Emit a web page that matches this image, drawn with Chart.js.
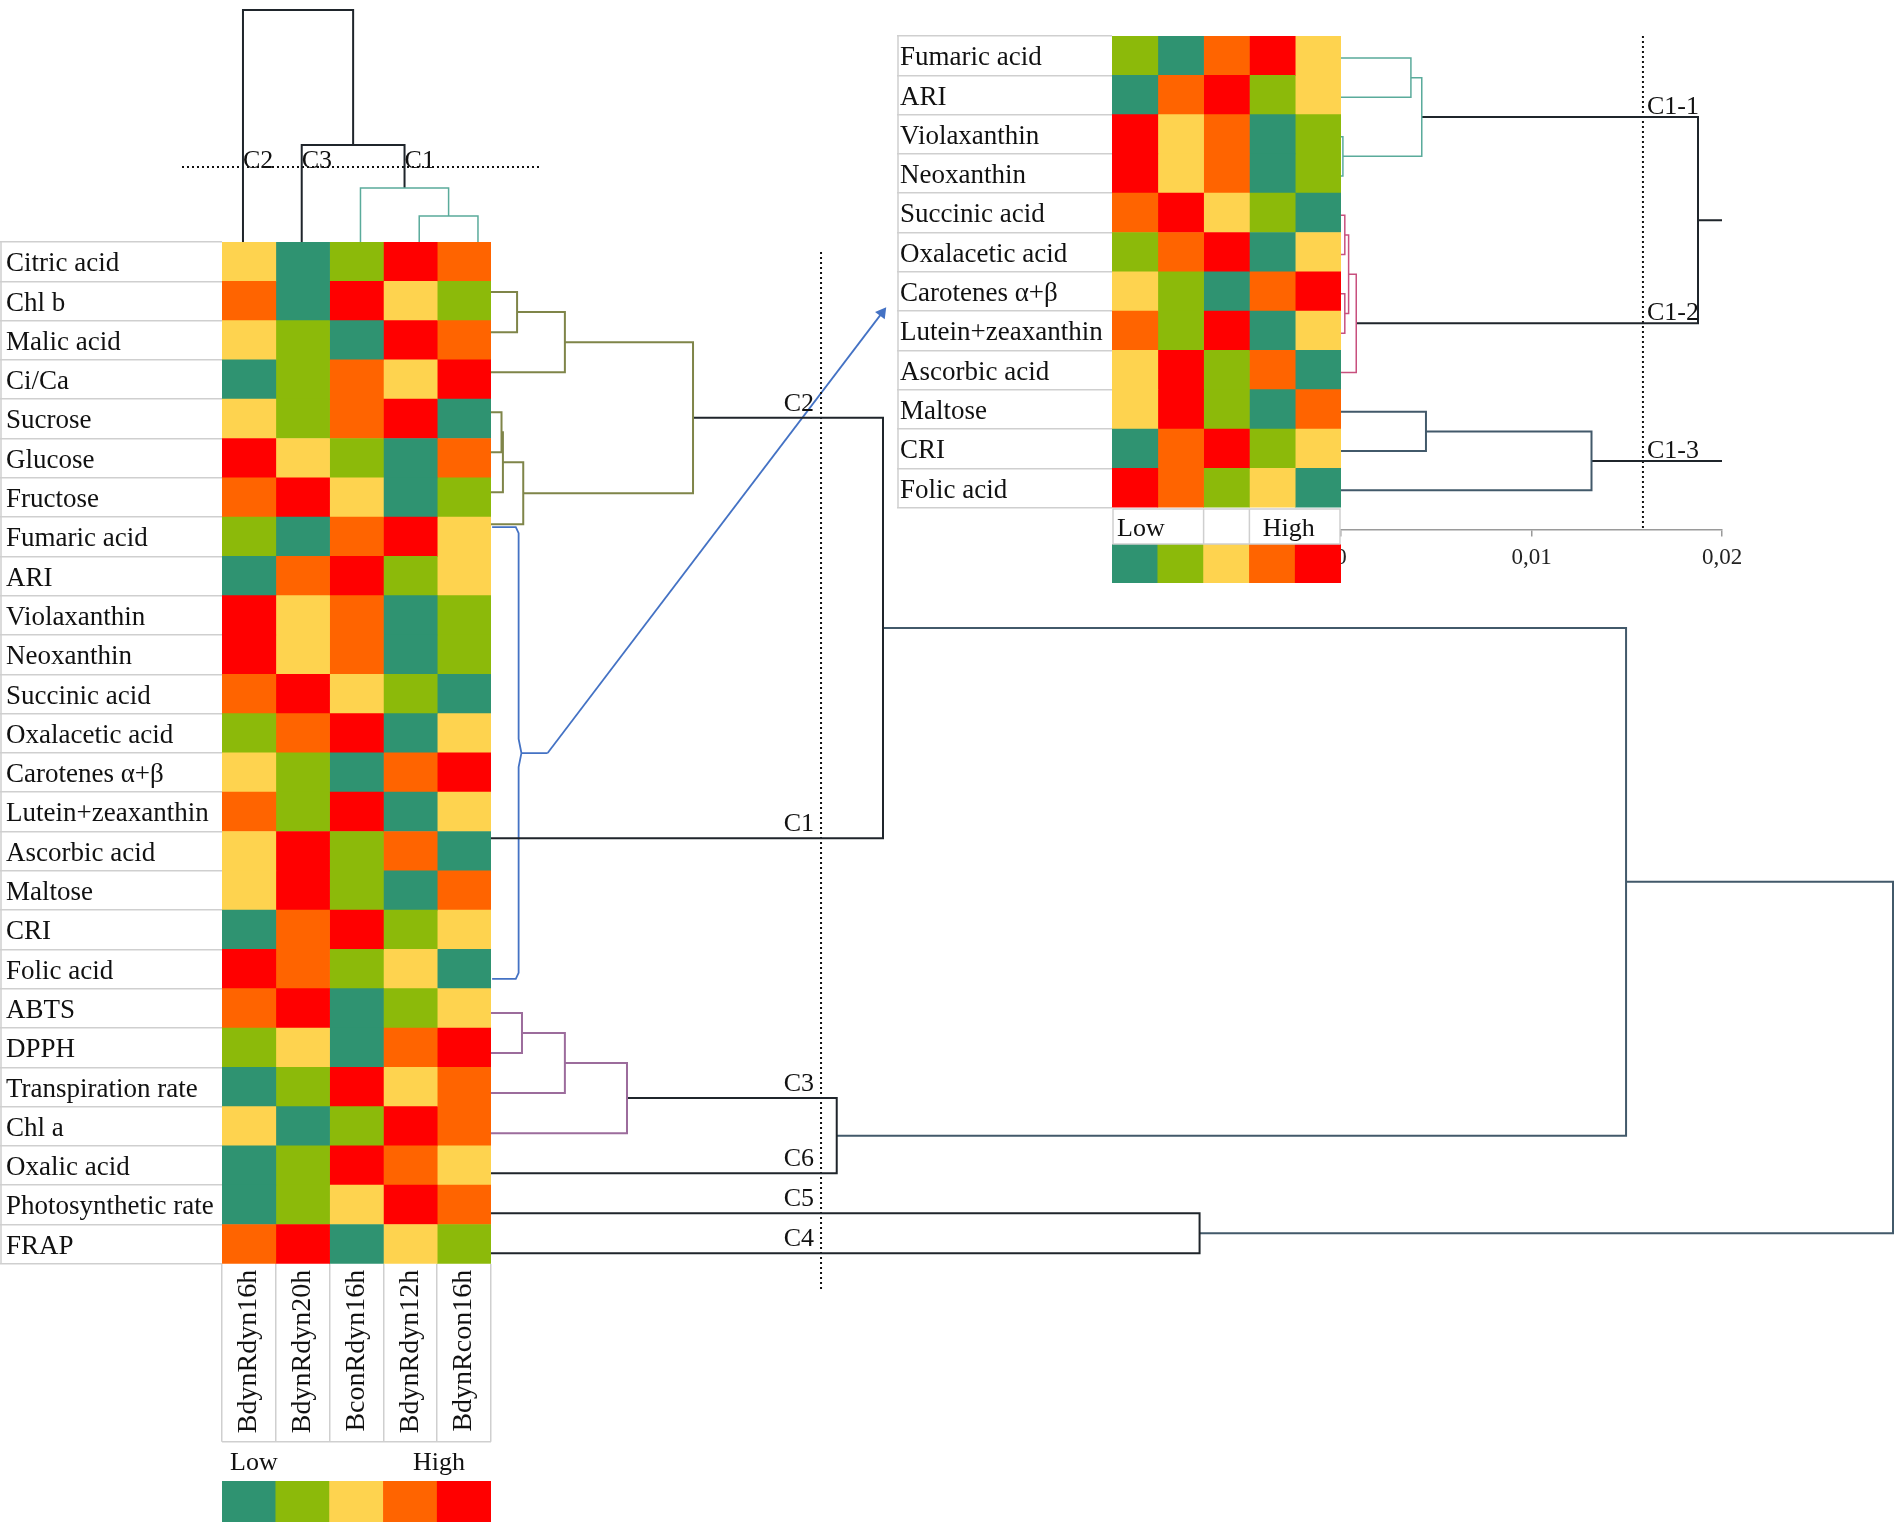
<!DOCTYPE html>
<html lang="en">
<head>
<meta charset="UTF-8">
<title>Clustered heatmap</title>
<script src="https://cdn.jsdelivr.net/npm/chart.js@4.4.1/dist/chart.umd.min.js"></script>
<style>
  html, body { margin: 0; padding: 0; background: #fff; }
  #page { position: relative; width: 1900px; height: 1522px; overflow: hidden; background: #fff; }
  #page canvas { position: absolute; }
</style>
</head>
<body>
<div id="page"></div>
<script>
// ---------- data ----------
const rowNames = ['Citric acid', 'Chl b', 'Malic acid', 'Ci/Ca', 'Sucrose', 'Glucose', 'Fructose',
  'Fumaric acid', 'ARI', 'Violaxanthin', 'Neoxanthin', 'Succinic acid', 'Oxalacetic acid',
  'Carotenes α+β', 'Lutein+zeaxanthin', 'Ascorbic acid', 'Maltose', 'CRI', 'Folic acid',
  'ABTS', 'DPPH', 'Transpiration rate', 'Chl a', 'Oxalic acid', 'Photosynthetic rate', 'FRAP'];
const colNames = ['BdynRdyn16h', 'BdynRdyn20h', 'BconRdyn16h', 'BdynRdyn12h', 'BdynRcon16h'];

// colour class of every row, 1 = low ... 5 = high
const bdynRdyn16h = [3,4,3,1,3,5,4,2,1,5,5,4,2,3,4,3,3,1,5,4,2,1,3,1,1,4];
const bdynRdyn20h = [1,1,2,2,2,3,5,1,4,3,3,5,4,2,2,5,5,4,4,5,3,2,1,2,2,5];
const bconRdyn16h = [2,5,1,4,4,2,3,4,5,4,4,3,5,1,5,2,2,5,2,1,1,5,2,5,3,1];
const bdynRdyn12h = [5,3,5,3,5,1,1,5,2,1,1,2,1,4,1,4,1,2,3,2,4,3,5,4,5,3];
const bdynRcon16h = [4,2,4,5,1,4,2,3,3,2,2,1,3,5,3,1,4,3,1,3,5,4,4,3,4,2];
const levels = [1, 2, 3, 4, 5];
const keyText = ['Low', 'High'];

// column tree: [left, right, height]; numbers = column index, 'mK' = K-th merge
const colMerges = [[3, 4, 0.112], [2, 'm0', 0.233], [1, 'm1', 0.418], [0, 'm2', 1.0]];
const colCut = 0.323;
const colClusterNames = ['C2', 'C3', 'C1'];
const colClusterAt = [0, 1, 'm1'];

// row tree (distance rescaled so the root is 1); numbers = row index,
// fractional where the source draws the branch between rows
const rowMerges = [
  [1, 2, 0.0186],         // Chl b + Malic acid
  ['m0', 3, 0.0527],      // + Ci/Ca
  [4, 5, 0.0075],         // Sucrose + Glucose
  ['m2', 6, 0.0085],      // + Fructose
  ['m3', 6.8, 0.0230],
  ['m1', 'm4', 0.1441],   // C2
  ['m5', 14.64, 0.2796],  // C2 + C1 (C1 is drawn in the inset)
  [19, 20, 0.0221],       // ABTS + DPPH
  ['m7', 21, 0.0527],     // + Transpiration rate
  ['m8', 22, 0.0970],     // + Chl a = C3
  ['m9', 23, 0.2466],     // C3 + Oxalic acid (C6)
  [24, 25, 0.5054],       // Photosynthetic rate (C5) + FRAP (C4)
  ['m6', 'm10', 0.8096],
  ['m12', 'm11', 1.0]
];
const rowCut = 0.2354;
const rowClusterNames = ['C2', 'C1', 'C3', 'C6', 'C5', 'C4'];
const rowClusterAt = ['m5', 14.64, 'm9', 23, 24, 25];
const c1Rows = [7, 19];   // rows 7..18 = cluster C1, enlarged in the inset

// inset tree for C1 (real distance); numbers = row inside the inset
const insetMerges = [
  [0, 1, 0.00367],        // Fumaric acid + ARI
  [2, 3, 0.0001],         // Violaxanthin + Neoxanthin
  ['m0', 'm1', 0.00424],  // C1-1
  [4, 5, 0.0002],
  [6, 7, 0.0002],
  ['m3', 'm4', 0.0004],
  ['m5', 8, 0.0008],      // C1-2
  ['m2', 'm6', 0.01874],
  [9, 10, 0.00446],       // Maltose + CRI
  ['m8', 11, 0.01315],    // + Folic acid = C1-3
  ['m7', 'm9', 0.025]     // joins beyond the plotted range
];
const insetCut = 0.01585;
const insetClusterNames = ['C1-1', 'C1-2', 'C1-3'];
const insetClusterAt = ['m2', 'm6', 'm9'];
const insetTicks = [0, 0.01, 0.02];

// ---------- look ----------
Chart.defaults.font.family = "'Liberation Serif', 'Times New Roman', serif";
Chart.defaults.font.size = 26;
Chart.defaults.color = '#111';
Chart.defaults.animation = false;
Chart.defaults.responsive = false;
Chart.defaults.devicePixelRatio = 1;
Chart.defaults.events = [];
Chart.defaults.plugins.legend.display = false;
Chart.defaults.plugins.tooltip.enabled = false;
Chart.defaults.layout.autoPadding = false;

const SERIF = '"Liberation Serif", "Times New Roman", serif';
const palette = ['#2f9371', '#8cba0a', '#fed34f', '#ff6400', '#ff0000'];
const GRID = '#cfcfcf';
const INK = { olive: '#7f8549', purple: '#9c6c9c', teal: '#5aab9b', pink: '#c8507e',
              dark: '#1f252b', slate: '#42596a', blue: '#4472c4' };
const colBranchInk = ['teal', 'teal', 'dark', 'dark'];
const rowBranchInk = ['olive', 'olive', 'olive', 'olive', 'olive', 'olive', 'dark',
                      'purple', 'purple', 'purple', 'dark', 'dark', 'slate', 'slate'];
const insetBranchInk = ['teal', 'teal', 'teal', 'pink', 'pink', 'pink', 'pink', 'dark', 'slate', 'slate', 'dark'];

// page geometry (px)
const ROW_H = 39.3;
const MAIN = { top: 242, left: 222, right: 491, textX: 6, band: 180, tick: 178 };
const INSET = { top: 36, left: 1112, right: 1341, textX: 897, axisY: 529.5, treeShift: 2.4 };
// the row tree of the source is drawn slightly taller than the heatmap rows
const ROWTREE = { left: 491, top: 200, right: 1900, bottom: 1320, unit: 1402,
                  origin: 232, rowH: 40.05, cutFrom: 0.5, cutTo: 26.47 };
const COLTREE = { left: 182, right: 540, x0: 213.6, unit: 58.75, hUnit: 232 };
const INSETTREE = { left: 1320, right: 1760, bottom: 600, unit: 19050 };

function addCanvas(left, top, w, h) {
  const c = document.createElement('canvas');
  c.width = Math.round(w); c.height = Math.round(h);
  Object.assign(c.style, { left: left + 'px', top: top + 'px', width: c.width + 'px', height: c.height + 'px' });
  document.getElementById('page').appendChild(c);
  return c;
}

const heatCols = [bdynRdyn16h, bdynRdyn20h, bconRdyn16h, bdynRdyn12h, bdynRcon16h];
function heatDatasets(from, to) {
  return heatCols.map((col, j) => {
    const cls = col.slice(from, to);
    return { label: colNames[j], data: cls.map(() => 1), backgroundColor: cls.map(v => palette[v - 1]),
             borderWidth: 0, barPercentage: 1, categoryPercentage: 1 };
  });
}

function rowAxis(canvasLeft, textX, edgeX) {
  return {
    type: 'category', offset: true, stacked: true,
    border: { display: false },
    grid: { offset: true, drawOnChartArea: false, color: GRID, lineWidth: 1.5, tickLength: edgeX - canvasLeft },
    ticks: { crossAlign: 'far', autoSkip: false, padding: -16, labelOffset: 2.5, font: { size: 27 } },
    afterFit: s => { s.width = edgeX - textX; }
  };
}

function tableFrame(band) {
  return {
    id: 'tableFrame',
    afterDraw(chart) {
      const { ctx, chartArea: a } = chart;
      ctx.save();
      ctx.strokeStyle = GRID; ctx.lineWidth = 1.5;
      ctx.beginPath();
      ctx.moveTo(1, a.top); ctx.lineTo(1, a.bottom);
      if (band) { ctx.moveTo(a.left, a.bottom + band); ctx.lineTo(a.right, a.bottom + band); }
      ctx.stroke();
      ctx.restore();
    }
  };
}

function buildTree(merges, leafPos) {
  const nodes = [];
  const get = r => typeof r === 'string' ? nodes[+r.slice(1)] : { pos: leafPos(r), h: 0 };
  const paths = merges.map(([a, b, h]) => {
    const A = get(a), B = get(b);
    nodes.push({ pos: (A.pos + B.pos) / 2, h });
    return [[A.pos, A.h], [A.pos, h], [B.pos, h], [B.pos, B.h]];
  });
  return { nodes, paths, get };
}

function treeSets(tree, inks, sideways) {
  return tree.paths.map((p, k) => ({
    data: p.map(([pos, h]) => sideways ? { x: h, y: pos } : { x: pos, y: h }),
    showLine: true, pointRadius: 0, borderColor: INK[inks[k]],
    borderWidth: (inks[k] === 'teal' || inks[k] === 'pink') ? 1.5 : 2
  }));
}

function dotted(points) {
  return { data: points, showLine: true, pointRadius: 0, borderColor: '#111', borderWidth: 2, borderDash: [2, 3] };
}

function treeLabels(tree, names, at, cut, o) {
  return {
    id: 'treeLabels',
    afterDatasetsDraw(chart) {
      const { ctx, scales: { x, y } } = chart;
      ctx.save();
      ctx.font = '26px ' + SERIF;
      ctx.fillStyle = '#111';
      ctx.textAlign = o.align;
      ctx.textBaseline = 'alphabetic';
      names.forEach((t, i) => {
        const p = tree.get(at[i]).pos;
        const px = o.sideways ? x.getPixelForValue(cut) : x.getPixelForValue(p);
        const py = o.sideways ? y.getPixelForValue(p) : y.getPixelForValue(cut);
        ctx.fillText(t, px + o.dx, py + o.dy);
      });
      ctx.restore();
    }
  };
}

// colour key: five cells, "Low"/"High" written above them; positions are in cell
// units (0 = left edge of the first cell) and go through the key's category scale
function keyChart(left, right, top, labelH, barH, textAt, textRise, boxed) {
  const keyPlugin = {
    id: 'keyText',
    afterDraw(chart) {
      const { ctx, chartArea: a } = chart, x = chart.scales.x;
      const px = v => x.getPixelForValue(v - 0.5);
      ctx.save();
      if (boxed) {
        ctx.strokeStyle = GRID; ctx.lineWidth = 1.5;
        ctx.strokeRect(a.left + 1, 1, a.right - a.left - 2, a.top - 1);
        ctx.beginPath();
        [2, 3].forEach(v => { ctx.moveTo(px(v), 1); ctx.lineTo(px(v), a.top); });
        ctx.stroke();
      }
      ctx.font = '26px ' + SERIF;
      ctx.fillStyle = '#111';
      ctx.textAlign = 'left';
      ctx.textBaseline = 'middle';
      keyText.forEach((t, i) => ctx.fillText(t, px(textAt[i]), a.top - textRise));
      ctx.restore();
    }
  };
  return new Chart(addCanvas(left, top, right - left, labelH + barH), {
    type: 'bar',
    data: { labels: levels.map(String), datasets: [{ data: levels.map(() => 1), backgroundColor: palette,
            borderWidth: 0, barPercentage: 1, categoryPercentage: 1 }] },
    options: {
      layout: { padding: { top: labelH, left: 0, right: 0, bottom: 0 } },
      scales: {
        x: { display: false },
        y: { display: false, min: 0, max: 1 }
      }
    },
    plugins: [keyPlugin]
  });
}

// ---------- main row dendrogram (drawn first, under everything) ----------
const rowTree = buildTree(rowMerges, r => r + 0.5);
const bTop = c1Rows[0] + 0.37, bBot = c1Rows[1] - 0.35, bMid = (bTop + bBot) / 2;
const sp = 0.0197, tip = 0.0404;
const arrowTarget = { x: 0.2789, y: 2.02 };
new Chart(addCanvas(ROWTREE.left, ROWTREE.top, ROWTREE.right - ROWTREE.left, ROWTREE.bottom - ROWTREE.top), {
  type: 'scatter',
  data: { datasets: [
    ...treeSets(rowTree, rowBranchInk, true),
    dotted([{ x: rowCut, y: ROWTREE.cutFrom }, { x: rowCut, y: ROWTREE.cutTo }]),
    { data: [[0.0008, bTop], [sp - 0.002, bTop], [sp, bTop + 0.15], [sp, bMid - 0.35], [sp + 0.002, bMid],
             [tip, bMid], [sp + 0.002, bMid], [sp, bMid + 0.35], [sp, bBot - 0.15], [sp - 0.002, bBot],
             [0.0008, bBot]].map(([x, y]) => ({ x, y })),
      showLine: true, pointRadius: 0, borderColor: INK.blue, borderWidth: 1.8 },
    { data: [{ x: tip, y: bMid }, arrowTarget], showLine: true, borderColor: INK.blue, borderWidth: 1.8,
      backgroundColor: INK.blue, pointBackgroundColor: INK.blue, pointStyle: 'triangle', pointRadius: [0, 7],
      pointBorderWidth: 0, clip: false,
      pointRotation: c => {
        const d = c.dataset.data, xs = c.chart.scales.x, ys = c.chart.scales.y;
        const dx = xs.getPixelForValue(d[1].x) - xs.getPixelForValue(d[0].x);
        const dy = ys.getPixelForValue(d[1].y) - ys.getPixelForValue(d[0].y);
        return Math.atan2(dx, -dy) * 180 / Math.PI;
      } }
  ] },
  options: {
    layout: { padding: 0 },
    scales: {
      x: { type: 'linear', display: false, min: 0, max: (ROWTREE.right - ROWTREE.left) / ROWTREE.unit },
      y: { type: 'linear', display: false, reverse: true,
           min: (ROWTREE.top - ROWTREE.origin) / ROWTREE.rowH, max: (ROWTREE.bottom - ROWTREE.origin) / ROWTREE.rowH }
    }
  },
  plugins: [treeLabels(rowTree, rowClusterNames, rowClusterAt, rowCut, { sideways: true, align: 'right', dx: -7, dy: -7 })]
});

// ---------- column dendrogram ----------
const colTree = buildTree(colMerges, i => i + 0.5);
const cxMin = (COLTREE.left - COLTREE.x0) / COLTREE.unit, cxMax = (COLTREE.right - COLTREE.x0) / COLTREE.unit;
new Chart(addCanvas(COLTREE.left, 0, COLTREE.right - COLTREE.left, MAIN.top), {
  type: 'scatter',
  data: { datasets: [
    ...treeSets(colTree, colBranchInk, false),
    dotted([{ x: cxMin, y: colCut }, { x: cxMax, y: colCut }])
  ] },
  options: {
    layout: { padding: 0 },
    scales: {
      x: { type: 'linear', display: false, min: cxMin, max: cxMax },
      y: { type: 'linear', display: false, min: 0, max: MAIN.top / COLTREE.hUnit }
    }
  },
  plugins: [treeLabels(colTree, colClusterNames, colClusterAt, colCut, { sideways: false, align: 'left', dx: 0, dy: 1 })]
});

// ---------- main heatmap ----------
const nRows = rowNames.length;
const mainH = Math.round(6 + nRows * ROW_H + MAIN.band);
new Chart(addCanvas(0, MAIN.top - 6, MAIN.right + 4, mainH), {
  type: 'bar',
  data: { labels: rowNames, datasets: heatDatasets(0, nRows) },
  options: {
    indexAxis: 'y',
    layout: { padding: { top: 6, right: 4, left: MAIN.textX, bottom: 0 } },
    scales: {
      x: { type: 'linear', stacked: true, min: 0, max: colNames.length, display: false },
      xc: { type: 'category', labels: colNames, position: 'bottom', offset: true,
            border: { display: false },
            grid: { offset: true, drawOnChartArea: false, color: GRID, lineWidth: 1.5, tickLength: MAIN.tick },
            ticks: { autoSkip: false, minRotation: 90, maxRotation: 90, padding: 6 - MAIN.tick, font: { size: 28 } },
            afterFit: s => { s.height = mainH - 6 - nRows * ROW_H; } },
      y: rowAxis(0, MAIN.textX, MAIN.left)
    }
  },
  plugins: [tableFrame(MAIN.tick)]
});
keyChart(MAIN.left, MAIN.right, 1430, 51, 41, [0.15, 3.55], 18, false);

// ---------- inset: cluster C1 ----------
const insetRows = rowNames.slice(c1Rows[0], c1Rows[1]);
const insetH = Math.round(6 + insetRows.length * ROW_H + 2);
new Chart(addCanvas(INSET.textX, INSET.top - 6, INSET.right + 2 - INSET.textX, insetH), {
  type: 'bar',
  data: { labels: insetRows, datasets: heatDatasets(c1Rows[0], c1Rows[1]) },
  options: {
    indexAxis: 'y',
    layout: { padding: { top: 6, right: 2, left: 3, bottom: insetH - 6 - insetRows.length * ROW_H } },
    scales: {
      x: { type: 'linear', stacked: true, min: 0, max: colNames.length, display: false },
      y: rowAxis(INSET.textX, INSET.textX + 3, INSET.left)
    }
  },
  plugins: [tableFrame(0)]
});

const insetTree = buildTree(insetMerges, r => r + 0.5);
const iyMin = -INSET.treeShift / ROW_H;
const iyMax = (INSET.axisY - INSET.top - INSET.treeShift) / ROW_H;
new Chart(addCanvas(INSETTREE.left, INSET.top - 6, INSETTREE.right - INSETTREE.left, INSETTREE.bottom - INSET.top + 6), {
  type: 'scatter',
  data: { datasets: [
    ...treeSets(insetTree, insetBranchInk, true),
    dotted([{ x: insetCut, y: iyMin }, { x: insetCut, y: iyMax }])
  ] },
  options: {
    layout: { padding: { left: INSET.right - INSETTREE.left, top: 6,
                         right: INSETTREE.right - INSET.right - insetTicks[insetTicks.length - 1] * INSETTREE.unit, bottom: 0 } },
    scales: {
      x: { type: 'linear', min: insetTicks[0], max: insetTicks[insetTicks.length - 1],
           border: { color: '#9a9a9a', width: 1.5 },
           grid: { drawOnChartArea: false, color: '#9a9a9a', lineWidth: 1.5, tickLength: 7 },
           afterBuildTicks: s => { s.ticks = insetTicks.map(v => ({ value: v })); },
           ticks: { padding: 8, color: '#222', font: { size: 23 }, callback: v => String(v).replace('.', ',') },
           afterFit: s => { s.height = INSETTREE.bottom - INSET.axisY; } },
      y: { type: 'linear', display: false, reverse: true, min: iyMin, max: iyMax }
    }
  },
  plugins: [treeLabels(insetTree, insetClusterNames, insetClusterAt, insetCut, { sideways: true, align: 'left', dx: 4, dy: -3 })]
});
keyChart(INSET.left, INSET.right, INSET.top + insetRows.length * ROW_H, 36, 39, [0.11, 3.29], 14.5, true);
</script>
</body>
</html>
